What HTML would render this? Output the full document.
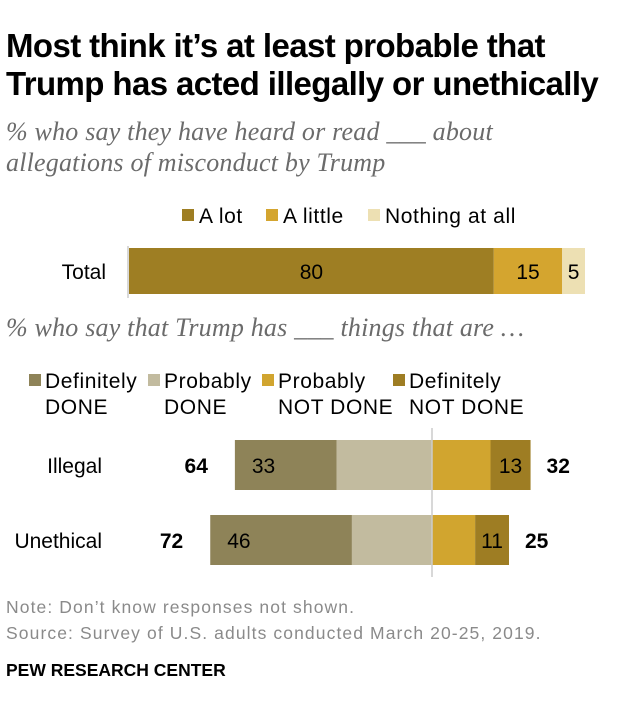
<!DOCTYPE html>
<html><head><meta charset="utf-8"><style>
body{margin:0;background:#fff;width:623px;height:720px;overflow:hidden;font-family:"Liberation Sans",sans-serif;}
.t{position:absolute;white-space:nowrap;}
</style></head><body>
<div class="t" style="left:6px;top:27px;font-size:33px;font-weight:bold;line-height:38px;color:#000;letter-spacing:-0.6px">Most think it’s at least probable that<br>Trump has acted illegally or unethically</div>
<div class="t" style="left:6px;top:116px;font-family:'Liberation Serif',serif;font-style:italic;font-size:26px;line-height:31px;color:#6b6b6b;letter-spacing:0.2px">% who say they have heard or read ___ about<br>allegations of misconduct by Trump</div>
<div class="t" style="left:6px;top:313px;font-family:'Liberation Serif',serif;font-style:italic;font-size:26px;color:#6b6b6b;letter-spacing:0.2px">% who say that Trump has ___ things that are …</div>
<svg id="c" width="623" height="720" style="position:absolute;left:0;top:0" font-family="Liberation Sans, sans-serif"></svg>
<div class="t" style="left:6px;top:597px;font-size:17.5px;color:#8a8a8a;letter-spacing:1.1px">Note: Don’t know responses not shown.</div>
<div class="t" style="left:6px;top:623px;font-size:17.5px;color:#8a8a8a;letter-spacing:1.1px">Source: Survey of U.S. adults conducted March 20-25, 2019.</div>
<div class="t" style="left:6px;top:660px;font-size:17.5px;font-weight:bold;color:#000">PEW RESEARCH CENTER</div>
<script>
const totalCats=["A lot","A little","Nothing at all"];
const totalVals=[80,15,5];
const divCats=["Illegal","Unethical"];
const defDone=[33,46];
const probDone=[31,26];
const probNot=[19,14];
const defNot=[13,11];
const netDone=[64,72];
const netNot=[32,25];
const svg=document.getElementById('c');
const NS='http://www.w3.org/2000/svg';
function mk(tag,attrs,txt){const e=document.createElementNS(NS,tag);for(const k in attrs)e.setAttribute(k,attrs[k]);if(txt!==undefined)e.textContent=txt;svg.appendChild(e);return e;}
const FS=21;
const tx=v=>129+v*4.56;
const tCol=["#9e7e23","#d4a52f","#ede0b3"];
mk('line',{x1:128,x2:128,y1:246,y2:298,stroke:'#ccc','stroke-width':1.5});
let t=mk('text',{x:106,y:279,'font-size':FS,'text-anchor':'end',fill:'#000'},'Total');

let acc=0;
totalVals.forEach((v,i)=>{
 let r=mk('rect',{x:tx(acc),y:248,width:tx(acc+v)-tx(acc),height:46,fill:tCol[i]});
 
 
 let l=mk('text',{x:(tx(acc)+tx(acc+v))/2,y:279,'font-size':FS,'text-anchor':'middle',fill:'#000'},v);
 
 
 acc+=v;
});
const lg1=[[182,'A lot'],[266,'A little'],[368,'Nothing at all']];
lg1.forEach((g,i)=>{
 let r=mk('rect',{x:g[0],y:209,width:12,height:12,fill:tCol[i]});
 
 
 let l=mk('text',{x:g[0]+17,y:223,'font-size':FS,fill:'#000','letter-spacing':0.6},totalCats[i]);
 
 
});
const C=432,S=3.08;
const dCol=["#8e8358","#c2bb9f","#d1a52f","#9e7d23"];
const lg2=[[29,'Definitely','DONE'],[148,'Probably','DONE'],[262,'Probably','NOT DONE'],[393,'Definitely','NOT DONE']];
lg2.forEach((g,i)=>{
 let r=mk('rect',{x:g[0],y:374,width:12,height:12,fill:dCol[i]});
 
 
 let l=mk('text',{x:g[0]+16,y:388,'font-size':FS,fill:'#000','letter-spacing':0.6},g[1]);
 
 
 let l2=mk('text',{x:g[0]+16,y:414,'font-size':FS,fill:'#000','letter-spacing':0.6},g[2]);
 
 
});
const rowY=[440,515];
divCats.forEach((c,i)=>{
 const y=rowY[i],h=50,my=y+h/2+8;
 const a=C-(defDone[i]+probDone[i])*S, b=C-probDone[i]*S, d=C+probNot[i]*S, e=d+defNot[i]*S;
 const segs=[[a,b],[b,C],[C,d],[d,e]];
 segs.forEach((s,j)=>{
  let r=mk('rect',{x:s[0],y:y,width:s[1]-s[0],height:h,fill:dCol[j]});
  
  
 });
 let v1=mk('text',{x:a+17,y:my,'font-size':FS,fill:'#000'},defDone[i]);
 
 
 let v2=mk('text',{x:(d+e)/2,y:my,'font-size':FS,'text-anchor':'middle',fill:'#000'},defNot[i]);
 
 
 let n1=mk('text',{x:a-27,y:my,'font-size':FS,'font-weight':'bold','text-anchor':'end',fill:'#000'},netDone[i]);
 
 
 let n2=mk('text',{x:e+16,y:my,'font-size':FS,'font-weight':'bold',fill:'#000'},netNot[i]);
 
 
 let cl=mk('text',{x:102,y:my,'font-size':FS,'text-anchor':'end',fill:'#000'},c);
 
 
});
let z=mk('line',{x1:C,x2:C,y1:428,y2:577,stroke:'#ccc','stroke-width':1.5});


</script>
</body></html>
